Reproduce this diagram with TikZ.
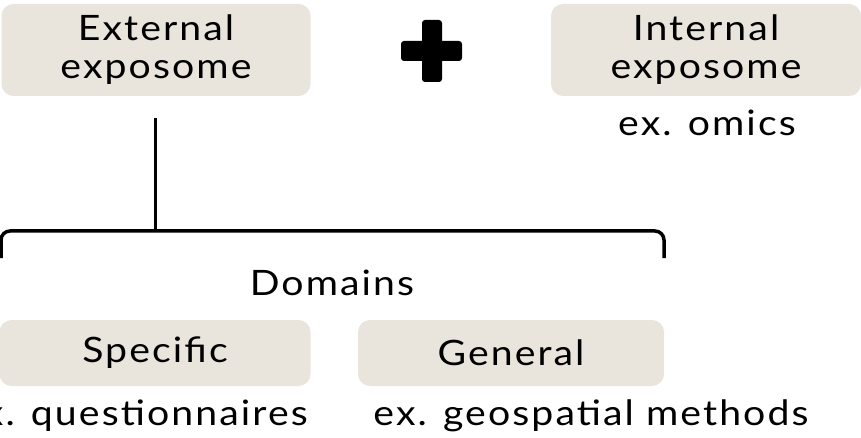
\documentclass[tikz,border=0pt]{standalone}
\usepackage{fontspec}
\setmainfont{Lato}[FakeStretch=1.12, LetterSpace=6]
\definecolor{boxfill}{RGB}{233,228,220}
\begin{document}
\begin{tikzpicture}[x=1pt,y=1pt,
  box/.style={fill=boxfill, rounded corners=12pt, inner sep=0pt, align=center,
    font=\fontsize{35}{38}\selectfont},
  lbl/.style={inner sep=0pt, font=\fontsize{35}{38}\selectfont},
  link/.style={line width=3pt, line cap=butt}]
\useasboundingbox (0,0) rectangle (861,-438);
\node[box, minimum width=309pt, minimum height=92pt] (ext) at (156,-50) {External\\exposome};
\node[box, minimum width=310pt, minimum height=92pt] (int) at (706,-50) {Internal\\exposome};
\node[lbl, anchor=base] (omics) at (707,-136) {ex. omics};
\fill[rounded corners=3pt] (401,-41) rectangle (462,-61);
\fill[rounded corners=3pt] (422,-20) rectangle (442,-82);
\coordinate (top) at (155,-118);
\coordinate (brmid) at (155,-231);
\coordinate (brl) at (1,-258);
\coordinate (brr) at (664,-258);
\draw[link] (top) -- (brmid);
\draw[line width=3.5pt, rounded corners=9pt] (brl) |- (brmid) -| (brr);
\node[lbl, anchor=base] (dom) at (332,-295) {Domains};
\node[box, minimum width=311pt, minimum height=66pt] (spec) at (155,-353) {Specific};
\node[box, minimum width=306pt, minimum height=66pt] (gen) at (511,-353) {General};
\node[lbl, anchor=base east] (q) at (308,-425) {ex. questionnaires};
\node[lbl, anchor=base] (g) at (591,-425) {ex. geospatial methods};
\end{tikzpicture}
\end{document}
